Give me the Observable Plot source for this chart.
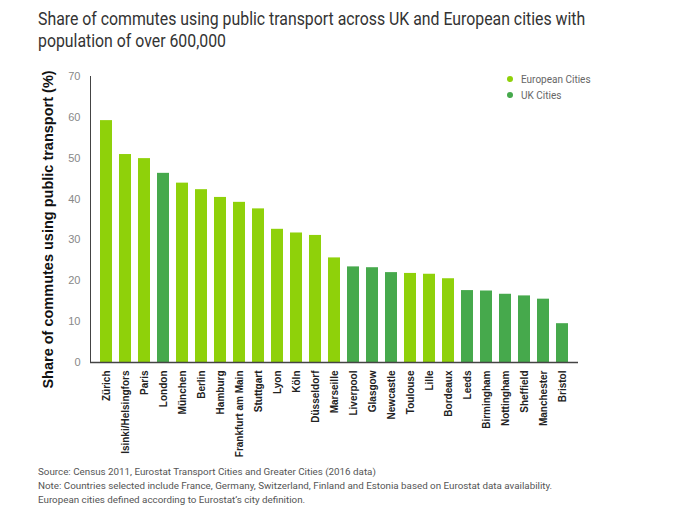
<!DOCTYPE html>
<html>
<head>
<meta charset="utf-8">
<script src="https://cdn.jsdelivr.net/npm/d3@7"></script>
<script src="https://cdn.jsdelivr.net/npm/@observablehq/plot@0.6"></script>
<style>
  body { margin: 0; background: #fff; width: 680px; height: 512px; overflow: hidden; position: relative; }
  #title { padding: 8px 0 0 38px; height: 44px; font-family: "Roboto", sans-serif; font-size: 18px; line-height: 22px; color: #333; transform: scaleX(0.88); transform-origin: 38px 0; white-space: nowrap; }
  #chart { height: 408px; }
  #foot { padding-left: 38px; font-family: "Roboto", "Liberation Sans", sans-serif; font-size: 9.8px; line-height: 14px; color: #555; margin-top: 5px; white-space: nowrap; }
  #legend { position: absolute; left: 507px; top: 72px; font-family: "Roboto", "Liberation Sans", sans-serif; font-size: 10px; color: #666; line-height: 16px; }
  #legend span.dot { display: inline-block; width: 6px; height: 6px; border-radius: 3px; margin-right: 8px; vertical-align: 1px; }
</style>
</head>
<body>
<div id="title">Share of commutes using public transport across UK and European cities with<br>population of over 600,000</div>
<div id="chart"></div>
<div id="foot">Source: Census 2011, Eurostat Transport Cities and Greater Cities (2016 data)<br>Note: Countries selected include France, Germany, Switzerland, Finland and Estonia based on Eurostat data availability.<br>European cities defined according to Eurostat’s city definition.</div>
<div id="legend"></div>
<script>
const cities = ["Zürich","Isinki/Helsingfors","Paris","London","München","Berlin","Hamburg","Frankfurt am Main","Stuttgart","Lyon","Köln","Düsseldorf","Marseille","Liverpool","Glasgow","Newcastle","Toulouse","Lille","Bordeaux","Leeds","Birmingham","Nottingham","Sheffield","Manchester","Bristol"];
const shares = [59.2,50.9,49.9,46.3,43.9,42.3,40.4,39.2,37.6,32.6,31.7,31.1,25.6,23.4,23.2,22.0,21.8,21.6,20.5,17.6,17.5,16.7,16.3,15.5,9.5];
const groups = ["European Cities","European Cities","European Cities","UK Cities","European Cities","European Cities","European Cities","European Cities","European Cities","European Cities","European Cities","European Cities","European Cities","UK Cities","UK Cities","UK Cities","European Cities","European Cities","European Cities","UK Cities","UK Cities","UK Cities","UK Cities","UK Cities","UK Cities"];
const groupNames = ["European Cities","UK Cities"];
const groupColors = ["#8fd10a","#46a94c"];
const yTicks = [0,10,20,30,40,50,60,70];
const yLabel = "Share of commutes using public transport (%)";

const data = cities.map((c,i) => ({city:c, share:shares[i], group:groups[i]}));

const chart = Plot.plot({
  width: 680,
  height: 408,
  marginTop: 24,
  marginBottom: 98,
  marginLeft: 90,
  marginRight: 102,
  style: {fontFamily: "Liberation Sans, Arial, sans-serif", background: "#fff", overflow: "visible"},
  x: {domain: cities, paddingInner: 0.38, paddingOuter: 0.15},
  y: {domain: [0,70]},
  color: {domain: groupNames, range: groupColors},
  marks: [
    Plot.barY(data, {x:"city", y:"share", fill:"group"}),
    Plot.axisY({ticks: yTicks, tickSize: 0, tickPadding: 10, fontSize: 11, color: "#888", label: null}),
    Plot.axisX({tickRotate: -90, tickSize: 0, tickPadding: 8, fontSize: 10, fontWeight: "bold", color: "#222", label: null}),
    Plot.frame({anchor: "left", stroke: "#444"}),
    Plot.ruleY([0], {stroke: "#444", strokeWidth: 1.5}),
    Plot.text([yLabel], {frameAnchor: "left", textAnchor: "middle", rotate: -90, dx: -42, dy: 10, fontSize: 14.5, fontWeight: "bold", fill: "#111"})
  ]
});
document.getElementById("chart").appendChild(chart);

const legend = document.getElementById("legend");
groupNames.forEach((g,i) => {
  const row = document.createElement("div");
  row.innerHTML = `<span class="dot" style="background:${groupColors[i]}"></span>${g}`;
  legend.appendChild(row);
});
</script>
</body>
</html>
